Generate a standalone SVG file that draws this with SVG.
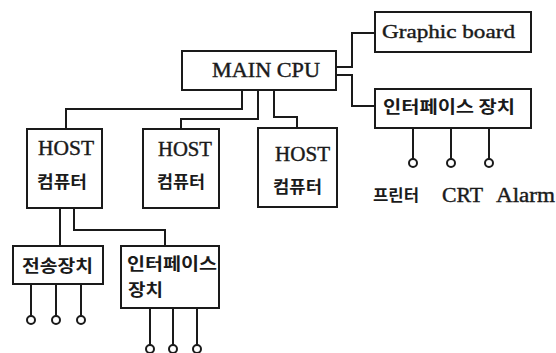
<svg xmlns="http://www.w3.org/2000/svg" width="556" height="353" viewBox="0 0 556 353">
<style>
.box{fill:#fff;stroke:#1a1a1a;stroke-width:2}
.ln{fill:none;stroke:#1a1a1a;stroke-width:2}
.term{fill:#fff;stroke:#1a1a1a;stroke-width:2}
.en{font-family:"Liberation Serif","Times New Roman",serif;fill:#1a1a1a;stroke:#1a1a1a;stroke-width:0.4}
.ko{font-family:"Noto Sans CJK KR","Noto Sans",sans-serif;font-weight:bold;fill:#1a1a1a}
</style>
<rect width="556" height="353" fill="#fff"/>
<g id="connectors">
<path class="ln" d="M336,67 H352 V33 H375"/>
<path class="ln" d="M336,75 H352 V106 H375"/>
<path class="ln" d="M242,90 V109 H66 V129"/>
<path class="ln" d="M258,90 V119 H181 V129"/>
<path class="ln" d="M274,90 V117 H297 V128"/>
<path class="ln" d="M60,208 V246"/>
<path class="ln" d="M74,208 V230 H165 V246"/>
<path class="ln" d="M413,128 V159 M451,128 V159 M489,128 V159"/>
<path class="ln" d="M31,284 V316 M56,284 V316 M81,284 V316"/>
<path class="ln" d="M150,308 V345 M173,308 V345 M197,308 V345"/>
<circle class="term" cx="413" cy="163" r="4"/>
<circle class="term" cx="451" cy="163" r="4"/>
<circle class="term" cx="489" cy="163" r="4"/>
<circle class="term" cx="31" cy="320" r="4"/>
<circle class="term" cx="56" cy="320" r="4"/>
<circle class="term" cx="81" cy="320" r="4"/>
<circle class="term" cx="150" cy="349" r="4"/>
<circle class="term" cx="173" cy="349" r="4"/>
<circle class="term" cx="197" cy="349" r="4"/>
</g>
<g id="main-cpu">
<rect class="box" x="182" y="51" width="154" height="39"/>
<text class="en" x="212" y="77" font-size="20" textLength="108" lengthAdjust="spacingAndGlyphs">MAIN CPU</text>
</g>
<g id="graphic-board">
<rect class="box" x="375" y="12" width="156" height="40"/>
<text class="en" x="382" y="38" font-size="19" textLength="133" lengthAdjust="spacingAndGlyphs">Graphic board</text>
</g>
<g id="interface-top">
<rect class="box" x="375" y="89" width="156" height="39"/>
<text class="ko" x="383" y="113" font-size="17" textLength="132" lengthAdjust="spacingAndGlyphs">인터페이스 장치</text>
</g>
<g id="host1">
<rect class="box" x="27" y="129" width="75" height="79"/>
<text class="en" x="38" y="155" font-size="20" textLength="56" lengthAdjust="spacingAndGlyphs">HOST</text>
<text class="ko" x="37" y="188" font-size="17" textLength="50" lengthAdjust="spacingAndGlyphs">컴퓨터</text>
</g>
<g id="host2">
<rect class="box" x="143" y="129" width="76" height="79"/>
<text class="en" x="158" y="156" font-size="20" textLength="54" lengthAdjust="spacingAndGlyphs">HOST</text>
<text class="ko" x="157" y="188" font-size="17" textLength="48" lengthAdjust="spacingAndGlyphs">컴퓨터</text>
</g>
<g id="host3">
<rect class="box" x="258" y="128" width="79" height="79"/>
<text class="en" x="275" y="161" font-size="20" textLength="55" lengthAdjust="spacingAndGlyphs">HOST</text>
<text class="ko" x="273" y="193" font-size="17" textLength="49" lengthAdjust="spacingAndGlyphs">컴퓨터</text>
</g>
<g id="transmission">
<rect class="box" x="13" y="246" width="90" height="38"/>
<text class="ko" x="22" y="272" font-size="17" textLength="71" lengthAdjust="spacingAndGlyphs">전송장치</text>
</g>
<g id="interface-bottom">
<rect class="box" x="121" y="246" width="98" height="62"/>
<text class="ko" x="127" y="270" font-size="17" textLength="90" lengthAdjust="spacingAndGlyphs">인터페이스</text>
<text class="ko" x="128" y="296" font-size="17" textLength="35" lengthAdjust="spacingAndGlyphs">장치</text>
</g>
<g id="device-labels">
<text class="ko" x="373" y="201" font-size="16" textLength="46" lengthAdjust="spacingAndGlyphs">프린터</text>
<text class="en" x="442" y="202" font-size="20" textLength="41" lengthAdjust="spacingAndGlyphs">CRT</text>
<text class="en" x="496" y="202" font-size="20" textLength="59" lengthAdjust="spacingAndGlyphs">Alarm</text>
</g>
</svg>
